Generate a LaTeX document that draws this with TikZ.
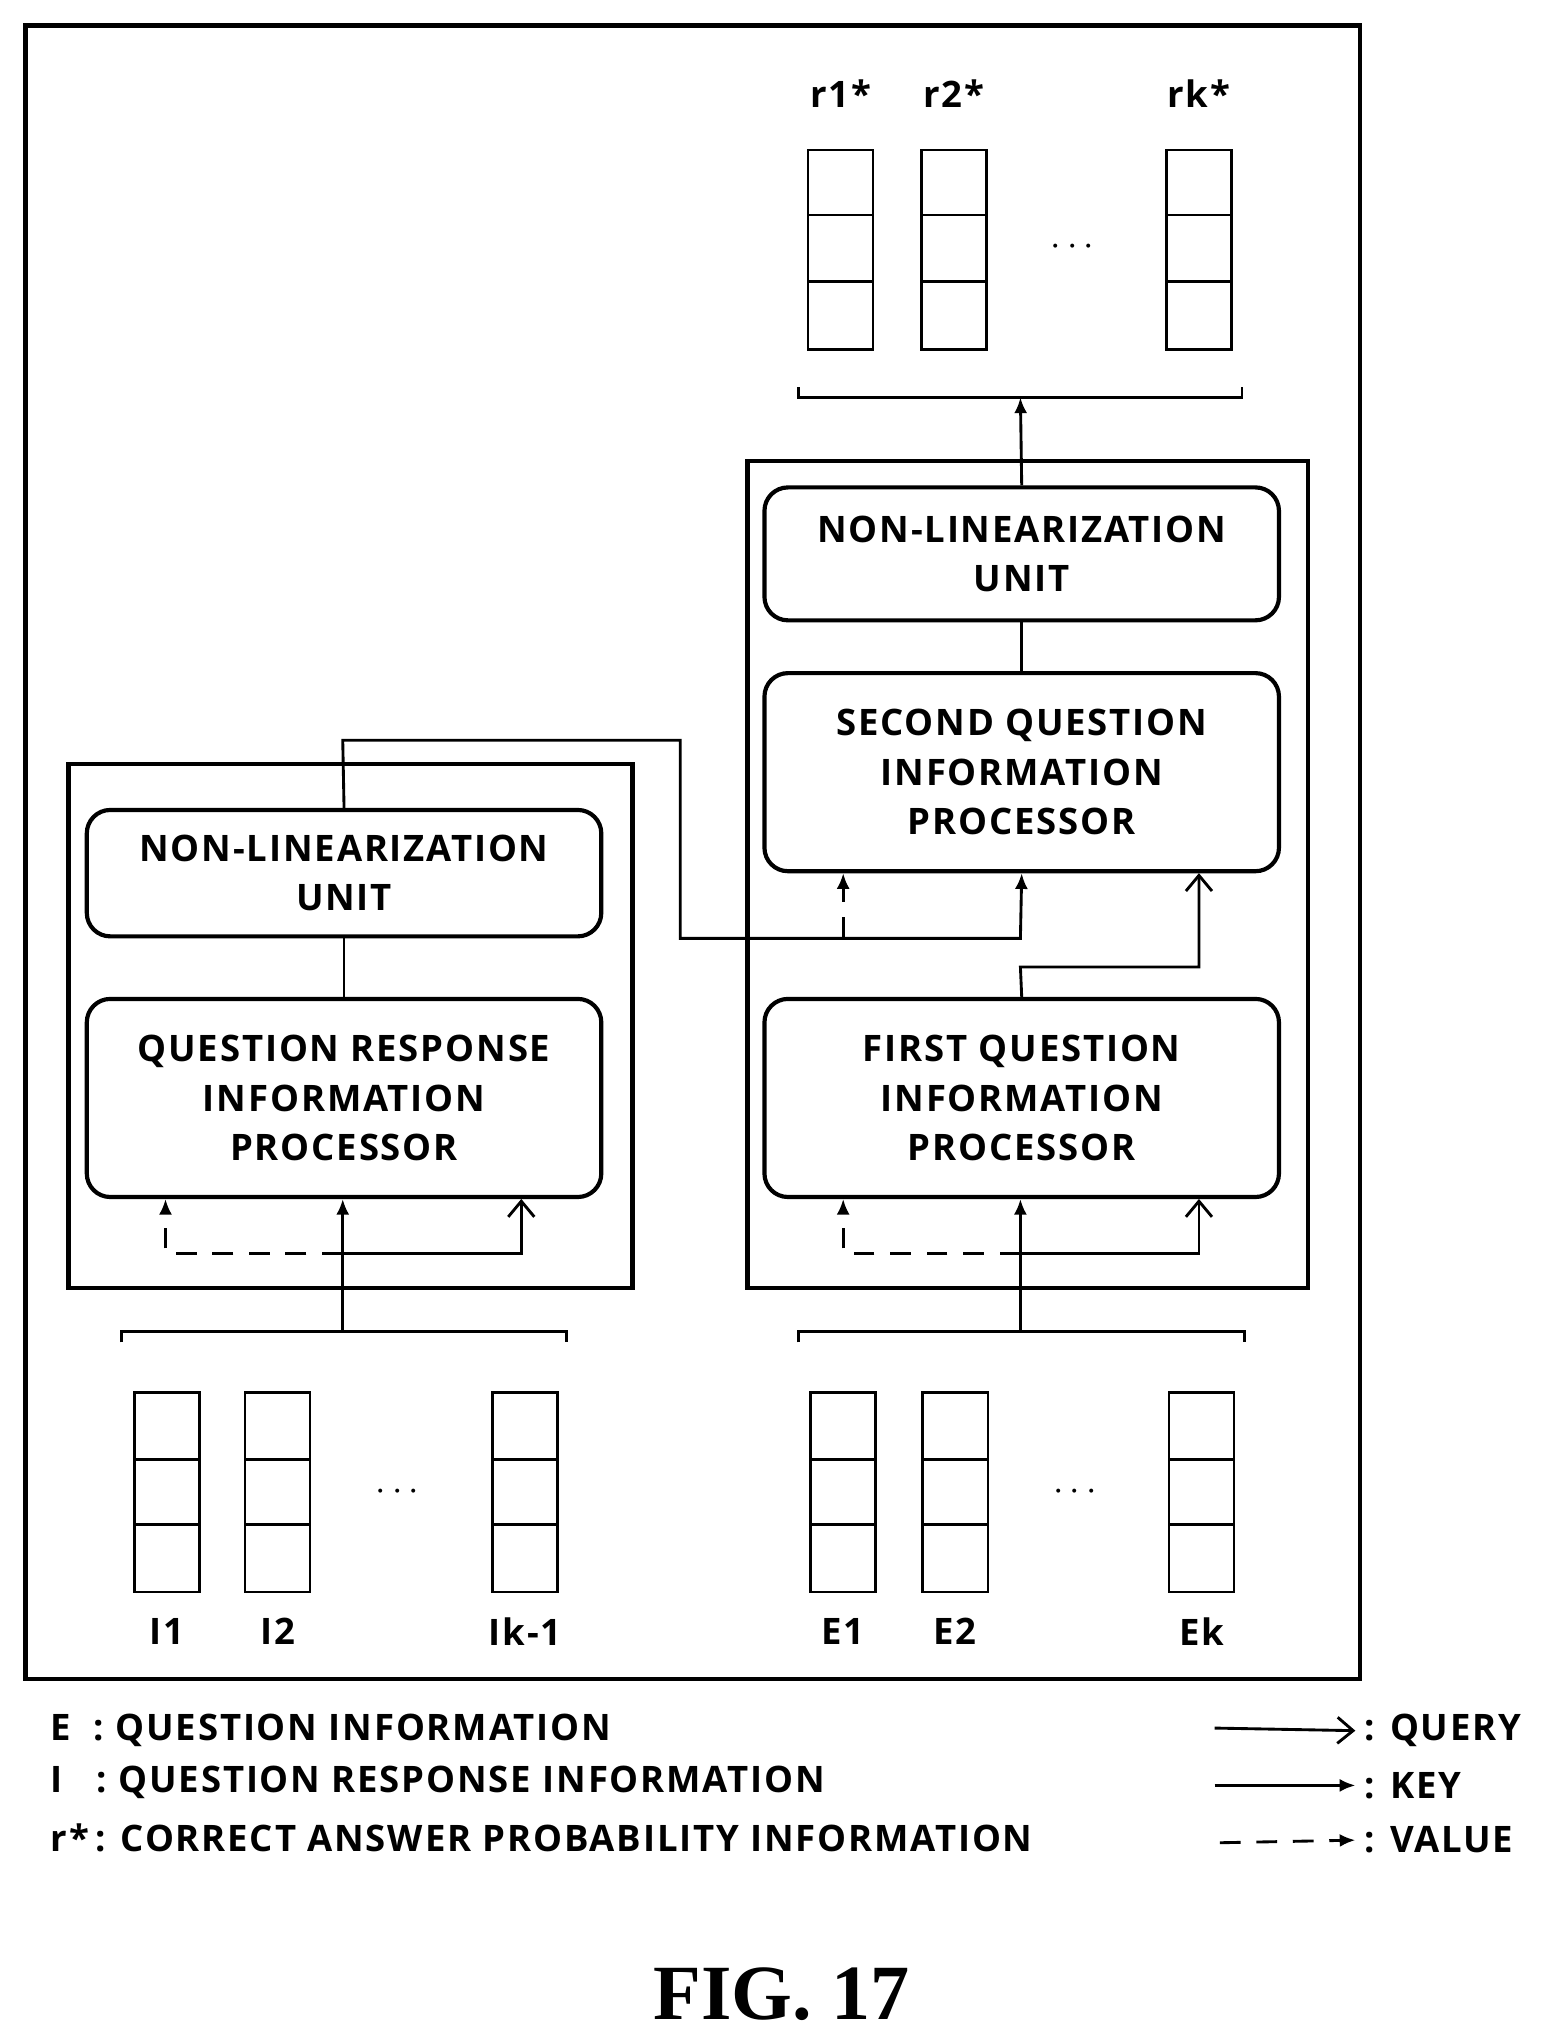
\documentclass[tikz,border=0pt]{standalone}
\usepackage{fontspec}
\setmainfont{Open Sans}[LetterSpace=5,BoldFont={Open Sans Bold}]
\newfontfamily\figfont{Liberation Serif}[BoldFont={Liberation Serif Bold}]
\usetikzlibrary{arrows.meta}
\begin{document}
\begin{tikzpicture}[x=0.5pt,y=-0.5pt,
  frame/.style={draw,line width=1.6pt},
  unit/.style={draw,line width=1.6pt,rounded corners=9pt,align=center,font=\fontsize{14}{19}\selectfont\bfseries,inner sep=0pt},
  cell/.style={draw,line width=1pt,minimum width=25pt,minimum height=76.5pt,inner sep=0pt},
  lab/.style={font=\fontsize{14}{17}\selectfont\bfseries},
  con/.style={line width=1.1pt},
  key/.style={con,-{Latex[length=6pt,width=5pt]}},
  qry/.style={con,-{Straight Barb[length=6pt,width=10pt]}},
  val/.style={con,dashed,dash pattern=on 8pt off 6pt,-{Latex[length=6pt,width=5pt]}}]
\useasboundingbox (0,0) rectangle (1190,1560);
\node[frame,minimum width=511.9pt,minimum height=634.4pt] (outer) at (531.5,654) {};
% top cells
\foreach \n/\x/\t in {r1/645/r1*,r2/732/r2*,rk/920/rk*}{
  \node[cell] (\n) at (\x,191.5) {};
  \draw[line width=1pt] (\x-25,165) -- (\x+25,165) (\x-25,216) -- (\x+25,216);
  \node[lab] (\n l) at (\x,72) {\t};}
\node[lab] (rdots) at (823,190) {$\cdots$};
\coordinate (tb) at (783,305);
\draw[con] (613,297) -- (613,305) -- (953,305) -- (953,297);
% right block
\node[frame,minimum width=214.9pt,minimum height=317.4pt] (rbox) at (788.5,671) {};
\node[unit,minimum width=197.4pt,minimum height=51pt] (nlr) at (784,425) {NON-LINEARIZATION\\UNIT};
\node[unit,minimum width=197.4pt,minimum height=76pt] (sq) at (784,592.5) {SECOND QUESTION\\INFORMATION\\PROCESSOR};
\node[unit,minimum width=197.4pt,minimum height=76pt] (fq) at (784,842.5) {FIRST QUESTION\\INFORMATION\\PROCESSOR};
\draw[key] (nlr.north) -- (tb);
\draw[con] (nlr.south) -- (sq.north);
% left block
\node[frame,minimum width=216.4pt,minimum height=201pt] (lbox) at (269,787.5) {};
\node[unit,minimum width=197.4pt,minimum height=48.5pt] (nll) at (264,670) {NON-LINEARIZATION\\UNIT};
\node[unit,minimum width=197.4pt,minimum height=76pt] (qr) at (264,842.5) {QUESTION RESPONSE\\INFORMATION\\PROCESSOR};
\draw[con] (nll.south) -- (qr.north);
% cross connection
\draw[key] (nll.north) -- (263,568) -- (522,568) -- (522,720) -- (783,720) -- (sq.south);
\draw[val] (647,720) -- (647,670);
\draw[qry] (fq.north) -- (783,742) -- (920,742) -- (920,670);
% bottom inputs left
\coordinate (lb) at (263,1022);
\draw[con] (93,1030) -- (93,1022) -- (435,1022) -- (435,1030);
\draw[key] (lb) -- (263,920);
\draw[val] (263,962) -- (127,962) -- (127,920);
\draw[qry] (263,962) -- (400,962) -- (400,920);
\coordinate (rb) at (783,1022);
\draw[con] (613,1030) -- (613,1022) -- (955,1022) -- (955,1030);
\draw[key] (rb) -- (783,920);
\draw[val] (783,962) -- (647,962) -- (647,920);
\draw[qry] (783,962) -- (920,962) -- (920,920);
% bottom cells
\foreach \n/\x/\t in {i1/128/I1,i2/213/I2,ik/403/Ik-1,e1/647/E1,e2/733/E2,ek/922/Ek}{
  \node[cell] (\n) at (\x,1145) {};
  \draw[line width=1pt] (\x-25,1120) -- (\x+25,1120) (\x-25,1170) -- (\x+25,1170);
  \node[lab] (\n l) at (\x,1252) {\t};}
\node[lab] (idots) at (305,1145) {$\cdots$};
\node[lab] (edots) at (825,1145) {$\cdots$};
% legend
\node[lab,anchor=west] (lg1) at (32,1328) {E~~: QUESTION INFORMATION};
\node[lab,anchor=west] (lg2) at (32,1368) {I~~~: QUESTION RESPONSE INFORMATION};
\node[lab,anchor=west] (lg3) at (32,1410) {r*\,: CORRECT ANSWER PROBABILITY INFORMATION};
\node[lab,anchor=west] (q) at (1040,1328) {: QUERY};
\node[lab,anchor=west] (k) at (1040,1370) {: KEY};
\node[lab,anchor=west] (v) at (1040,1412) {: VALUE};
\coordinate (qa) at (932,1326); \coordinate (ka) at (932,1370); \coordinate (va) at (936,1414);
\draw[qry] (qa) -- (q.west);
\draw[key] (ka) -- (k.west);
\draw[val] (va) -- (v.west);
\node[font=\figfont\fontsize{30}{34}\selectfont\bfseries] (fig) at (600,1530) {FIG. 17};
\end{tikzpicture}
\end{document}
